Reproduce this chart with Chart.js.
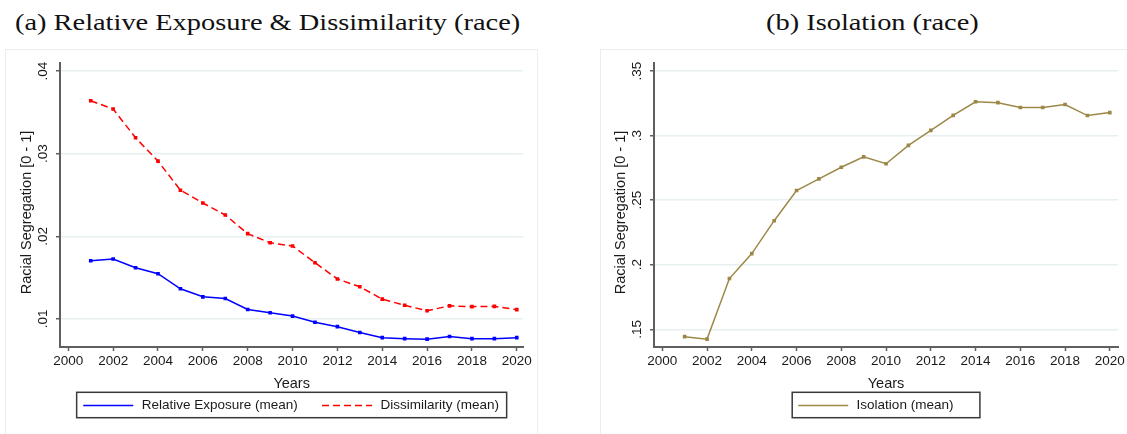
<!DOCTYPE html>
<html>
<head>
<meta charset="utf-8">
<script src="https://cdn.jsdelivr.net/npm/chart.js@4.4.1/dist/chart.umd.min.js"></script>
<style>
  html, body { margin: 0; padding: 0; background: #fff; }
  body { width: 1127px; height: 434px; position: relative; overflow: hidden; }
  .frame { position: absolute; top: 49px; border: 1px solid #e8eef1; box-sizing: border-box; }
  .cap { position: absolute; top: 10px; font-family: "Liberation Serif", serif; font-size: 24px;
         line-height: 24px; white-space: nowrap; color: #111; transform-origin: 0 0; }
  canvas { position: absolute; top: 0; }
</style>
</head>
<body>
<div class="frame" style="left:5px;width:533px;height:392px"></div>
<div class="frame" style="left:600px;width:545px;height:392px"></div>
<div class="cap" id="capA">(a) Relative Exposure &amp; Dissimilarity (race)</div>
<div class="cap" id="capB">(b) Isolation (race)</div>
<canvas id="chartA" width="563" height="434" style="left:0px"></canvas>
<canvas id="chartB" width="564" height="434" style="left:563px"></canvas>

<script>
// ---- data ----
const years = [2001, 2002, 2003, 2004, 2005, 2006, 2007, 2008, 2009, 2010,
               2011, 2012, 2013, 2014, 2015, 2016, 2017, 2018, 2019, 2020];

const relativeExposure = [0.01704, 0.01726, 0.01620, 0.01548, 0.01365, 0.01268, 0.01248, 0.01115, 0.01075, 0.01035,
                          0.00960, 0.00907, 0.00837, 0.00774, 0.00762, 0.00756, 0.00788, 0.00762, 0.00762, 0.00774];

const dissimilarity = [0.03640, 0.03540, 0.03192, 0.02910, 0.02558, 0.02403, 0.02258, 0.02032, 0.01922, 0.01883,
                       0.01681, 0.01484, 0.01390, 0.01240, 0.01166, 0.01100, 0.01159, 0.01149, 0.01153, 0.01113];

const isolation = [0.1443, 0.1424, 0.1893, 0.2086, 0.2341, 0.2575, 0.2665, 0.2755, 0.2835, 0.2782,
                   0.2924, 0.3040, 0.3156, 0.3262, 0.3255, 0.3217, 0.3217, 0.3241, 0.3155, 0.3178];

const xTickValues = [2000, 2002, 2004, 2006, 2008, 2010, 2012, 2014, 2016, 2018, 2020];
const yTickValuesA = [0.01, 0.02, 0.03, 0.04];
const yTickLabelsA = ['.01', '.02', '.03', '.04'];
const yTickValuesB = [0.15, 0.2, 0.25, 0.3, 0.35];
const yTickLabelsB = ['.15', '.2', '.25', '.3', '.35'];

// ---- styling ----
const INK = '#1a1a1a';
const AXIS = '#5f5f5f';
const GRID = '#e7eff1';
Chart.defaults.font.family = '"Liberation Sans", Arial, sans-serif';
Chart.defaults.color = INK;

const pts = vals => years.map((y, i) => ({ x: y, y: vals[i] }));

// boxed key under the plot, centred on the plot region
const framedKey = {
  id: 'framedKey',
  afterDraw(chart, args, o) {
    const { ctx, chartArea } = chart;
    const cx = (chartArea.left + chartArea.right) / 2;
    const x0 = cx - o.width / 2;
    const ymid = o.top + o.height / 2 + 0.5;
    ctx.save();
    ctx.strokeStyle = '#3a3a3a';
    ctx.lineWidth = 1.5;
    ctx.strokeRect(x0, o.top, o.width, o.height);
    ctx.font = '13.5px "Liberation Sans", Arial, sans-serif';
    ctx.textBaseline = 'middle';
    ctx.textAlign = 'left';
    let x = x0 + o.inset;
    chart.data.datasets.forEach(ds => {
      ctx.strokeStyle = ds.borderColor;
      ctx.lineWidth = ds.borderWidth;
      ctx.setLineDash(ds.borderDash || []);
      ctx.beginPath();
      ctx.moveTo(x, ymid);
      ctx.lineTo(x + o.sample, ymid);
      ctx.stroke();
      ctx.setLineDash([]);
      x += o.sample + o.gap;
      ctx.fillStyle = INK;
      ctx.fillText(ds.label, x, ymid);
      x += ctx.measureText(ds.label).width + o.spacing;
    });
    ctx.restore();
  }
};

// rotated title beside the value axis
const sideTitle = {
  id: 'sideTitle',
  afterDraw(chart, args, o) {
    const { ctx } = chart;
    ctx.save();
    ctx.translate(o.x, o.y);
    ctx.rotate(-Math.PI / 2);
    ctx.font = '14.5px "Liberation Sans", Arial, sans-serif';
    ctx.fillStyle = INK;
    ctx.textAlign = 'center';
    ctx.textBaseline = 'middle';
    ctx.fillText(o.text, 0, 0);
    ctx.restore();
  }
};

function makeConfig(datasets, opt) {
  return {
    type: 'line',
    data: { datasets },
    options: {
      responsive: false,
      animation: false,
      events: [],
      layout: { padding: { top: 63, right: opt.padRight, bottom: 0, left: 0 } },
      elements: {
        line: { tension: 0 },
        point: { pointStyle: 'rect', radius: 1.5, borderWidth: 0 }
      },
      scales: {
        x: {
          type: 'linear',
          min: opt.xMin, max: opt.xMax,
          afterBuildTicks: s => { s.ticks = xTickValues.map(v => ({ value: v })); },
          afterFit: s => { s.height = 87; },
          ticks: { callback: v => String(v), font: { size: 13.5 }, color: INK, padding: 2, maxRotation: 0, autoSkip: false },
          grid: { display: true, drawOnChartArea: false, drawTicks: true, tickLength: 4, tickColor: AXIS, tickWidth: 1.5 },
          border: { display: true, color: AXIS, width: 2 },
          title: { display: true, text: 'Years', font: { size: 14.5 }, color: INK, padding: { top: 0, bottom: 41.3 } }
        },
        y: {
          type: 'linear',
          min: opt.yMin, max: opt.yMax,
          afterBuildTicks: s => { s.ticks = opt.yTicks.map(v => ({ value: v })); },
          afterFit: s => { s.width = opt.axisLeft; },
          ticks: {
            callback: (v, i) => opt.yLabels[i],
            font: { size: 13.5 }, color: INK, padding: 3.3,
            minRotation: 90, maxRotation: 90, crossAlign: 'center', autoSkip: false
          },
          grid: { color: GRID, lineWidth: 1.5, drawTicks: true, tickLength: 4, tickColor: AXIS, tickWidth: 1.5 },
          border: { display: true, color: AXIS, width: 2 }
        }
      },
      plugins: {
        legend: { display: false },
        tooltip: { enabled: false },
        framedKey: opt.key,
        sideTitle: { text: 'Racial Segregation [0 - 1]', x: opt.axisLeft - 32.7, y: 212.5 }
      }
    },
    plugins: [framedKey, sideTitle]
  };
}

new Chart(document.getElementById('chartA'), makeConfig([
  {
    label: 'Relative Exposure (mean)', data: pts(relativeExposure),
    borderColor: '#0000ff', backgroundColor: '#0000ff', borderWidth: 1.5,
    pointBackgroundColor: '#0000ff'
  },
  {
    label: 'Dissimilarity (mean)', data: pts(dissimilarity),
    borderColor: '#ff0000', backgroundColor: '#ff0000', borderWidth: 1.5, borderDash: [7, 4],
    pointBackgroundColor: '#ff0000'
  }
], {
  padRight: 39.7, axisLeft: 60,
  xMin: 1999.63, xMax: 2020.29,
  yMin: 0.00661, yMax: 0.04097,
  yTicks: yTickValuesA, yLabels: yTickLabelsA,
  key: { width: 430, top: 392.3, height: 25.4, inset: 6.6, sample: 50, gap: 8.4, spacing: 24.3 }
}));

new Chart(document.getElementById('chartB'), makeConfig([
  {
    label: 'Isolation (mean)', data: pts(isolation),
    borderColor: '#9c8847', backgroundColor: '#9c8847', borderWidth: 1.5,
    pointBackgroundColor: '#8f7b3c'
  }
], {
  padRight: 8.7, axisLeft: 91,
  xMin: 1999.63, xMax: 2020.37,
  yMin: 0.1363, yMax: 0.3562,
  yTicks: yTickValuesB, yLabels: yTickLabelsB,
  key: { width: 187.7, top: 392.3, height: 25.4, inset: 6, sample: 50, gap: 8.4, spacing: 24 }
}));

// panel captions: serif, stretched to the caption width
function placeCaptions() {
  const a = document.getElementById('capA');
  const b = document.getElementById('capB');
  const k = 505 / a.offsetWidth;
  a.style.transform = 'scaleX(' + k + ')';
  a.style.left = (267.5 - 505 / 2) + 'px';
  const wb = b.offsetWidth * k;
  b.style.transform = 'scaleX(' + k + ')';
  b.style.left = (872 - wb / 2) + 'px';
}
placeCaptions();
if (document.fonts && document.fonts.ready) document.fonts.ready.then(placeCaptions);
</script>
</body>
</html>
